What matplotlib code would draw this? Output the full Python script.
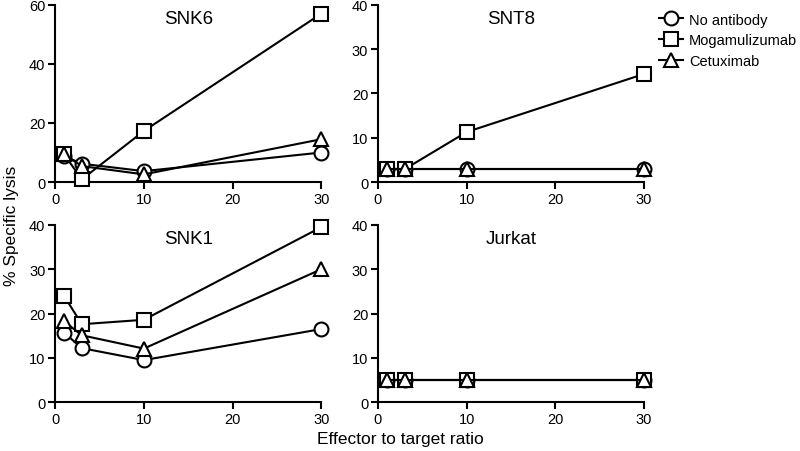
import matplotlib
matplotlib.use("Agg")
import matplotlib.pyplot as plt

plt.rcParams['font.family'] = ['Liberation Sans', 'DejaVu Sans']

# effector to target ratios
ratios = [1, 3, 10, 30]

series_names = ['No antibody', 'Mogamulizumab', 'Cetuximab']
markers = ['o', 's', '^']

# % specific lysis per cell line, in series_names order
snk6 = [[8.8, 6.2, 3.7, 10.0],
        [9.4, 0.9, 17.3, 57.0],
        [9.4, 5.4, 2.6, 14.5]]
snt8 = [[2.9, 2.9, 2.9, 2.9],
        [2.9, 2.9, 11.3, 24.4],
        [2.9, 2.9, 2.9, 2.9]]
snk1 = [[15.7, 12.2, 9.5, 16.5],
        [24.0, 17.6, 18.6, 39.5],
        [18.3, 15.1, 12.1, 30.0]]
jurkat = [[4.9, 4.9, 4.9, 4.9],
          [4.9, 4.9, 4.9, 4.9],
          [4.9, 4.9, 4.9, 4.9]]

panels = [('SNK6', snk6, 60, [0, 20, 40, 60]),
          ('SNT8', snt8, 40, [0, 10, 20, 30, 40]),
          ('SNK1', snk1, 40, [0, 10, 20, 30, 40]),
          ('Jurkat', jurkat, 40, [0, 10, 20, 30, 40])]

fig = plt.figure(figsize=(8, 4.52), dpi=100)

lefts = [0.069, 0.4725]
bottoms = [0.595, 0.108]
w, h = 0.3325, 0.392

handles = []
for i, (title, data, ymax, yticks) in enumerate(panels):
    ax = fig.add_axes([lefts[i % 2], bottoms[i // 2], w, h])
    for vals, mk, name in zip(data, markers, series_names):
        ln, = ax.plot(ratios, vals, color='black', lw=1.5, marker=mk,
                      markersize=10 if mk != '^' else 10.5,
                      markerfacecolor='white', markeredgecolor='black',
                      markeredgewidth=1.5, clip_on=False, zorder=3,
                      label=name)
        if i == 0:
            handles.append(ln)
    ax.set_xlim(0, 30)
    ax.set_ylim(0, ymax)
    ax.set_xticks([0, 10, 20, 30])
    ax.set_yticks(yticks)
    for side in ['top', 'right']:
        ax.spines[side].set_visible(False)
    for side in ['left', 'bottom']:
        ax.spines[side].set_linewidth(1.5)
    ax.tick_params(direction='out', length=5, width=1.5, labelsize=10.5,
                   pad=2)
    ax.text(0.5, 0.97, title, transform=ax.transAxes, ha='center',
            va='top', fontsize=13.5)

fig.text(0.5, 0.027, 'Effector to target ratio', ha='center',
         va='center', fontsize=12.5)
fig.text(0.014, 0.5, '% Specific lysis', ha='center', va='center',
         rotation=90, fontsize=12.5)

fig.legend(handles=handles, labels=series_names, loc='upper left',
           bbox_to_anchor=(0.824, 0.97), frameon=False, fontsize=10.5,
           handlelength=1.6, handletextpad=0.45, labelspacing=0.45,
           borderpad=0, borderaxespad=0)

fig.savefig('out.png', dpi=100)
